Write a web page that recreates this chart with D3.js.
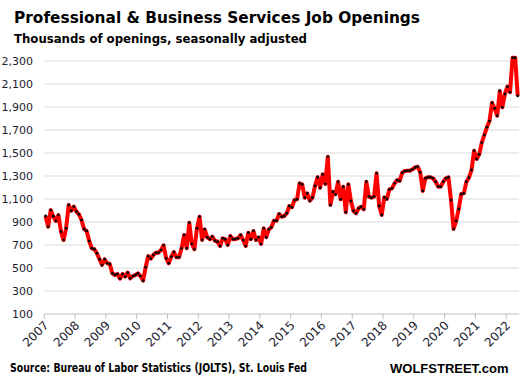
<!DOCTYPE html>
<html>
<head>
<meta charset="utf-8">
<script src="https://cdn.jsdelivr.net/npm/d3@7"></script>
<style>
  body { margin: 0; background: #fff; }
  svg text { font-family: "DejaVu Sans", Verdana, sans-serif; }
</style>
</head>
<body>
<script>
// Datos: ofertas de empleo, miles, mensual desde enero 2007
const years = ["2007","2008","2009","2010","2011","2012","2013","2014","2015","2016","2017","2018","2019","2020","2021","2022"];
const yTicks = [100, 300, 500, 700, 900, 1100, 1300, 1500, 1700, 1900, 2100, 2300];
const openings = [
  952, 859, 1004, 950, 909, 960, 816, 743, 845, 1048, 998, 1034,     // 2007
  990, 967, 917, 839, 822, 735, 671, 663, 628, 576, 526, 576,        // 2008
  541, 535, 454, 439, 448, 407, 448, 425, 459, 410, 430, 439,        // 2009
  454, 430, 390, 506, 604, 581, 613, 633, 633, 657, 697, 584,        // 2010
  541, 598, 639, 593, 593, 671, 787, 671, 894, 709, 663, 845,        // 2011
  946, 743, 836, 767, 750, 772, 737, 729, 691, 758, 750, 700,        // 2012
  778, 750, 752, 758, 787, 743, 691, 807, 750, 822, 743, 767,        // 2013
  709, 845, 767, 836, 854, 911, 911, 970, 946, 952, 976, 1039,       // 2014
  1028, 1091, 1097, 1236, 1228, 1111, 1149, 1085, 1111, 1213, 1289, 1198, // 2015
  1315, 1230, 1468, 1048, 1163, 1140, 1250, 1097, 1207, 985, 1228, 1083,  // 2016
  996, 976, 1019, 1033, 1010, 1250, 1120, 1111, 1120, 1323, 1039, 961,    // 2017
  1114, 1100, 1184, 1193, 1236, 1265, 1257, 1329, 1343, 1346, 1346, 1358, // 2018
  1375, 1381, 1332, 1170, 1280, 1289, 1289, 1280, 1250, 1207, 1207, 1250, // 2019
  1280, 1289, 1091, 839, 909, 1013, 1143, 1149, 1250, 1286, 1352, 1520,   // 2020
  1448, 1489, 1590, 1657, 1723, 1778, 1937, 1888, 1824, 2039, 1897, 2013, // 2021
  2077, 2028, 2329, 2329, 1996                                             // 2022
];

const width = 523;
const height = 385;
const margin = { left: 44.3, right: 4, top: 61, bottom: 71 };

const svg = d3.select("body").append("svg")
    .attr("width", width)
    .attr("height", height);

// Escalas
const x = d3.scaleLinear()
    .domain([0, openings.length])
    .range([margin.left, width - margin.right]);
const y = d3.scaleLinear()
    .domain([100, 2300])
    .range([height - margin.bottom, margin.top]);

// Títulos
svg.append("text")
    .attr("x", 14).attr("y", 23)
    .attr("font-size", 16.5).attr("font-weight", "bold")
    .attr("textLength", 406).attr("lengthAdjust", "spacingAndGlyphs")
    .text("Professional  & Business Services Job Openings");
svg.append("text")
    .attr("x", 14).attr("y", 43)
    .attr("font-size", 13).attr("font-weight", "bold")
    .attr("textLength", 293).attr("lengthAdjust", "spacingAndGlyphs")
    .text("Thousands of openings, seasonally adjusted");

// Rejilla horizontal
svg.append("g")
  .selectAll("line")
  .data(yTicks.slice(1))
  .join("line")
    .attr("x1", x(0)).attr("x2", x(openings.length))
    .attr("y1", d => y(d)).attr("y2", d => y(d))
    .attr("stroke", "#d9d9d9").attr("stroke-width", 1);

// Eje Y (solo etiquetas)
svg.append("g")
  .selectAll("text")
  .data(yTicks)
  .join("text")
    .attr("x", 33).attr("y", d => y(d) + 4)
    .attr("text-anchor", "end")
    .attr("font-size", 11)
    .attr("fill", "#1c1c30")
    .text(d3.format(","));

// Eje X
const xAxis = svg.append("g");
xAxis.append("line")
    .attr("x1", x(0)).attr("x2", x(openings.length))
    .attr("y1", y(100)).attr("y2", y(100))
    .attr("stroke", "#bfbfbf");
xAxis.selectAll("line.tick")
  .data(years)
  .join("line")
    .attr("class", "tick")
    .attr("x1", (d, i) => x(i * 12)).attr("x2", (d, i) => x(i * 12))
    .attr("y1", y(100)).attr("y2", y(100) + 5)
    .attr("stroke", "#bfbfbf");
xAxis.selectAll("text")
  .data(years)
  .join("text")
    .attr("transform", (d, i) => `translate(${x(i * 12) + 5},${y(100) + 12}) rotate(-45)`)
    .attr("text-anchor", "end")
    .attr("font-size", 12)
    .attr("fill", "#1c1c30")
    .text(d => d);

// Línea y marcadores
const line = d3.line()
    .x((d, i) => x(i + 0.5))
    .y(d => y(d));

svg.append("path")
    .datum(openings)
    .attr("fill", "none")
    .attr("stroke", "#ff0000")
    .attr("stroke-width", 4)
    .attr("stroke-linejoin", "round")
    .attr("d", line);

svg.append("g")
  .selectAll("circle")
  .data(openings)
  .join("circle")
    .attr("cx", (d, i) => x(i + 0.5))
    .attr("cy", d => y(d))
    .attr("r", 1.4)
    .attr("fill", "#000");

// Pie
svg.append("text")
    .attr("x", 10).attr("y", 372)
    .attr("font-size", 11.5).attr("font-weight", "bold")
    .attr("textLength", 297).attr("lengthAdjust", "spacingAndGlyphs")
    .text("Source: Bureau of Labor Statistics (JOLTS), St. Louis Fed");
svg.append("text")
    .attr("x", 390).attr("y", 373)
    .attr("font-size", 13)
    .attr("font-weight", "bold")
    .style("font-family", "'Liberation Sans', Arial, sans-serif")
    .text("WOLFSTREET.com");
</script>
</body>
</html>
